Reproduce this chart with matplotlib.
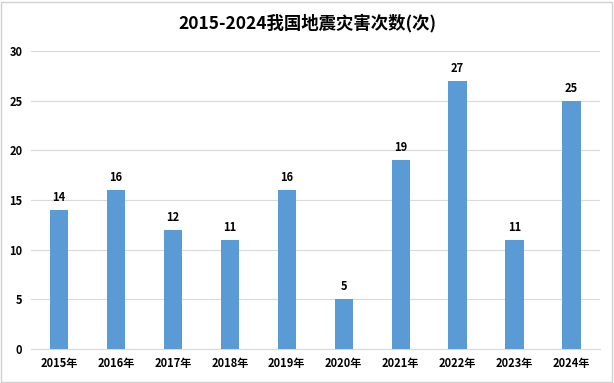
import matplotlib.pyplot as plt
from matplotlib.patches import Rectangle

plt.rcParams['font.family'] = ['Noto Sans CJK SC', 'DejaVu Sans']

# Data
years = ['2015年', '2016年', '2017年', '2018年', '2019年',
         '2020年', '2021年', '2022年', '2023年', '2024年']
counts = [14, 16, 12, 11, 16, 5, 19, 27, 11, 25]
title = '2015-2024我国地震灾害次数(次)'

fig = plt.figure(figsize=(6.14, 3.83), dpi=100)
ax = fig.add_axes([0.05, 0.089, 0.927, 0.778])

bars = ax.bar(years, counts, width=0.32, color='#5B9BD5', zorder=3)
for b, v in zip(bars, counts):
    ax.text(b.get_x() + b.get_width() / 2, v + 0.6, str(v), ha='center', va='bottom',
            fontsize=8, fontweight='bold', color='black')

ax.set_ylim(0, 30)
ax.set_xlim(-0.5, len(years) - 0.5)
ax.set_yticks(range(0, 31, 5))
ax.grid(axis='y', color='#D9D9D9', linewidth=0.8, zorder=0)
for s in ['top', 'right', 'left']:
    ax.spines[s].set_visible(False)
ax.spines['bottom'].set_color('#D9D9D9')
ax.tick_params(axis='x', length=0, labelsize=8, pad=6)
ax.tick_params(axis='y', length=0, labelsize=8, pad=6)
for lbl in ax.get_xticklabels() + ax.get_yticklabels():
    lbl.set_fontweight('bold')

fig.suptitle(title, x=0.5, y=0.965, fontsize=12.5, fontweight='bold')

# light border around the whole picture
fig.patches.append(Rectangle((0.002, 0.003), 0.995, 0.993, transform=fig.transFigure,
                             fill=False, edgecolor='#D0D0D0', linewidth=1))

fig.savefig('out.png', dpi=100)
